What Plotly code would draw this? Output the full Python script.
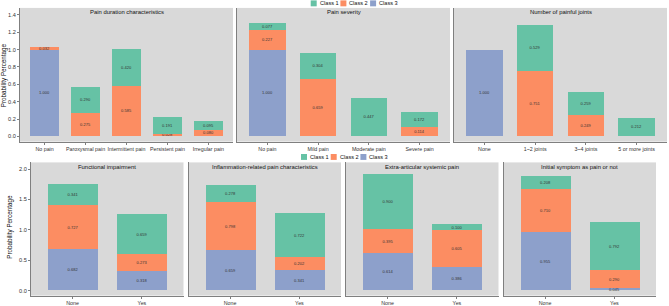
import plotly.graph_objects as go

W, H = 669, 306

# ---------------- data ----------------
titles = ["Pain duration characteristics", "Pain severity", "Number of painful joints",
          "Functional impairment", "Inflammation-related pain characteristics",
          "Extra-articular systemic pain", "Initial symptom as pain or not"]

cats = [
    ["No pain", "Paroxysmal pain", "Intermittent pain", "Persistent pain", "Irregular pain"],
    ["No pain", "Mild pain", "Moderate pain", "Severe pain"],
    ["None", "1~2 joints", "3~4 joints", "5 or more joints"],
    ["None", "Yes"],
    ["None", "Yes"],
    ["None", "Yes"],
    ["None", "Yes"],
]

class1 = [
    [None, 0.290, 0.420, 0.191, 0.095],
    [0.077, 0.304, 0.447, 0.172],
    [None, 0.529, 0.259, 0.212],
    [0.341, 0.659],
    [0.278, 0.722],
    [0.900, 0.100],
    [0.208, 0.792],
]
class2 = [
    [0.032, 0.275, 0.585, 0.028, 0.080],
    [0.227, 0.659, None, 0.114],
    [None, 0.751, 0.249, None],
    [0.727, 0.273],
    [0.798, 0.202],
    [0.395, 0.605],
    [0.710, 0.290],
]
class3 = [
    [1.000, None, None, None, None],
    [1.000, None, None, None],
    [1.000, None, None, None],
    [0.682, 0.318],
    [0.659, 0.341],
    [0.614, 0.386],
    [0.955, 0.045],
]

class_names = ["Class 1", "Class 2", "Class 3"]
colors = {"Class 1": "#66c2a5", "Class 2": "#fc8d62", "Class 3": "#8da0cb"}

top_ticks = [0.0, 0.2, 0.4, 0.6, 0.8, 1.0, 1.2, 1.4]
bot_ticks = [0.0, 0.5, 1.0, 1.5, 2.0]

# ---------------- layout helpers ----------------
def fx(px):
    return px / W

def fy(py):
    return 1 - py / H

top_x = [(20, 233), (237, 450), (454, 667)]
bot_x = [(31, 183.5), (188.5, 341), (346, 498.5), (503.5, 656)]
top_y = (143, 8)
bot_y = (298.5, 164)

panels = []
for a, b in top_x:
    panels.append(((a, b), top_y, "top"))
for a, b in bot_x:
    panels.append(((a, b), bot_y, "bot"))

fig = go.Figure()
FONT = "Liberation Sans, Arial, sans-serif"

series = [("Class 3", class3), ("Class 2", class2), ("Class 1", class1)]

for i, ((xa, xb), (ya, yb), row) in enumerate(panels):
    ax = "" if i == 0 else str(i + 1)
    for name, data in series:
        fig.add_trace(go.Bar(
            x=cats[i], y=data[i], name=name,
            marker=dict(color=colors[name], line=dict(width=0)),
            width=0.72,
            texttemplate="%{y:.3f}", textposition="inside",
            insidetextanchor="middle", textangle=0, constraintext="none",
            textfont=dict(size=4, color="#333333", family=FONT),
            showlegend=False, hoverinfo="skip",
            xaxis="x" + ax, yaxis="y" + ax,
        ))
    first = (i == 0 or i == 3)
    n = len(cats[i])
    fig.update_layout(**{
        "xaxis" + ax: dict(
            domain=[fx(xa), fx(xb)], anchor="y" + ax, type="category",
            range=[-0.6, n - 0.4], showgrid=False, zeroline=False,
            showline=True, linecolor="#7f7f7f", linewidth=1,
            ticks="outside", ticklen=2, tickcolor="#7f7f7f", tickangle=0,
            tickfont=dict(size=5.3, color="#333333", family=FONT),
        ),
        "yaxis" + ax: dict(
            domain=[fy(ya), fy(yb)], anchor="x" + ax,
            range=[-0.06, 1.48] if row == "top" else [-0.08, 2.11],
            tickvals=top_ticks if row == "top" else bot_ticks,
            tickformat=".1f", showgrid=False, zeroline=False,
            showline=True, linecolor="#7f7f7f", linewidth=1,
            ticks="outside" if first else "", ticklen=2, tickcolor="#7f7f7f",
            showticklabels=first,
            tickfont=dict(size=5.6, color="#333333", family=FONT),
        ),
    })
    # facet title
    fig.add_annotation(
        x=fx((xa + xb) / 2), y=fy(yb + 4.5), xref="paper", yref="paper",
        text=titles[i], showarrow=False, xanchor="center", yanchor="middle",
        font=dict(size=5.9, color="#111111", family=FONT),
    )

# y axis titles
for (xp, yp) in [(4, 76), (10, 229)]:
    fig.add_annotation(
        x=fx(xp), y=fy(yp), xref="paper", yref="paper",
        text="Probability Percentage", showarrow=False, textangle=-90,
        xanchor="center", yanchor="middle",
        font=dict(size=6.3, color="#111111", family=FONT),
    )

# legends (one per row)
for (x0, yc) in [(310.7, 3.4), (301, 158.5)]:
    for k, name in enumerate(class_names):
        sx = x0 + k * 29.7
        fig.add_shape(type="rect", xref="paper", yref="paper",
                      x0=fx(sx), x1=fx(sx + 6), y0=fy(yc + 3), y1=fy(yc - 3),
                      fillcolor=colors[name], line=dict(width=0))
        fig.add_annotation(x=fx(sx + 7.0), y=fy(yc), xref="paper", yref="paper",
                           text=name, showarrow=False, xanchor="left", yanchor="middle",
                           font=dict(size=5.6, color="#111111", family=FONT))

fig.update_layout(
    width=W, height=H, margin=dict(l=0, r=0, t=0, b=0),
    barmode="stack", bargap=0, showlegend=False,
    paper_bgcolor="white", plot_bgcolor="#d9d9d9",
    font=dict(family=FONT),
)

fig.write_html("out.html")
